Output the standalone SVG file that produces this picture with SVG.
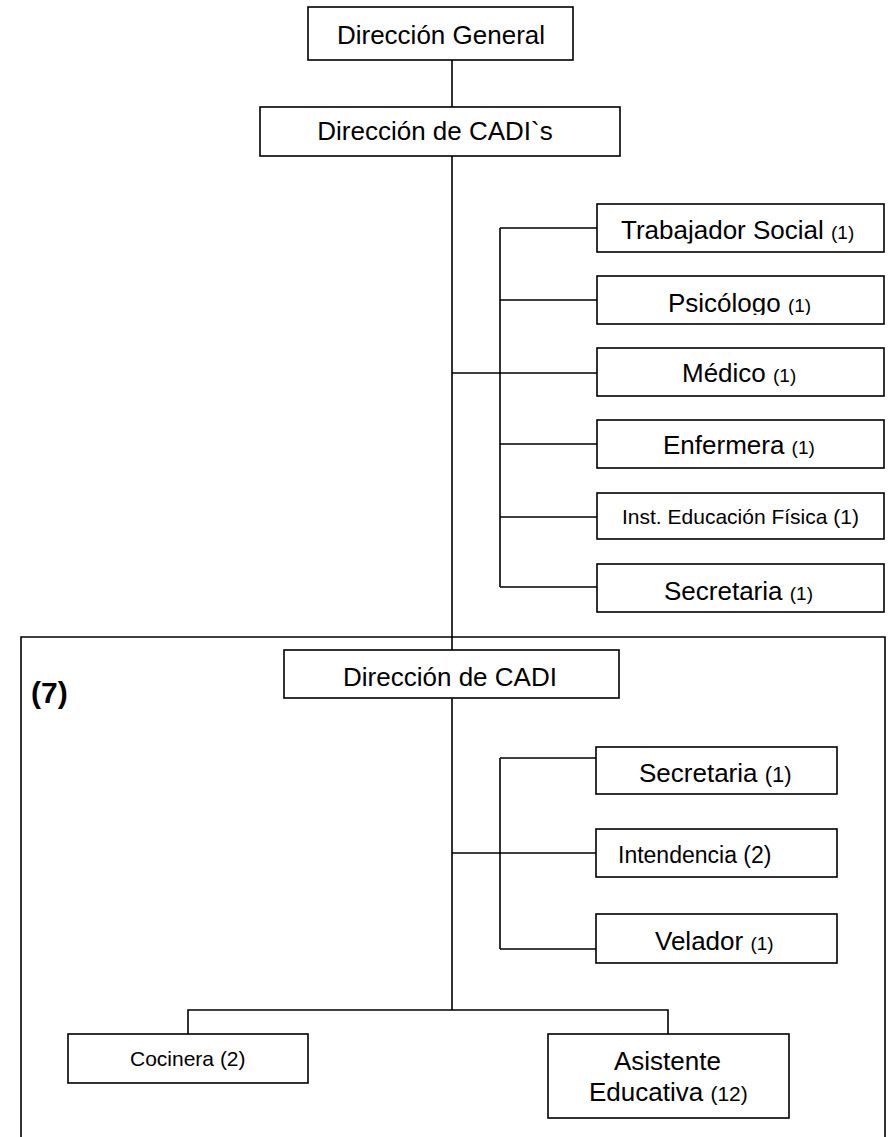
<svg xmlns="http://www.w3.org/2000/svg" width="889" height="1137" viewBox="0 0 889 1137">
<style>
.box{fill:#fff;stroke:#000;stroke-width:1.6}
.ln{fill:none;stroke:#000;stroke-width:1.6}
text{font-family:"Liberation Sans",Arial,sans-serif;fill:#000;font-size:26px}
.m{text-anchor:middle}
.s{font-size:19px}
.t{font-size:21px}
</style>
<defs>
<clipPath id="clipTS"><rect x="597" y="204" width="287" height="39.5"/></clipPath>
<clipPath id="clipPs"><rect x="597" y="276" width="287" height="39"/></clipPath>
</defs>
<g id="outer-frame"><path class="ln" d="M21,1137 V637 H885 V1137"/><text x="31" y="703" style="font-size:30px;font-weight:bold">(7)</text></g>
<g id="connectors">
<path class="ln" d="M452,60 V107 M452,156 V650 M452,698 V1010"/>
<path class="ln" d="M500,228 V587 M500,228 H597 M500,300 H597 M452,373 H597 M500,444 H597 M500,517 H597 M500,587 H597"/>
<path class="ln" d="M500,758 V949 M500,758 H596 M452,853 H596 M500,949 H596"/>
<path class="ln" d="M188,1034 V1010 H668 V1034"/>
</g>
<g id="direccion-general"><rect class="box" x="308" y="7" width="265" height="53"/><text class="m" x="441" y="44">Dirección General</text></g>
<g id="direccion-cadis"><rect class="box" x="260" y="107" width="360" height="49"/><text class="m" x="435" y="140">Dirección de CADI`s</text></g>
<g id="trabajador-social"><rect class="box" x="597" y="204" width="287" height="48"/><text x="621" y="239" clip-path="url(#clipTS)">Trabajador Social <tspan class="s">(1)</tspan></text></g>
<g id="psicologo"><rect class="box" x="597" y="276" width="287" height="48"/><text x="668" y="312" clip-path="url(#clipPs)">Psicólogo <tspan class="s">(1)</tspan></text></g>
<g id="medico"><rect class="box" x="597" y="348" width="287" height="48"/><text x="682" y="382">Médico <tspan class="s">(1)</tspan></text></g>
<g id="enfermera"><rect class="box" x="597" y="420" width="287" height="48"/><text x="663" y="454">Enfermera <tspan class="s">(1)</tspan></text></g>
<g id="inst-educacion-fisica"><rect class="box" x="597" y="493" width="287" height="46"/><text class="t" x="622" y="524">Inst. Educación Física (1)</text></g>
<g id="secretaria-1"><rect class="box" x="597" y="564" width="287" height="48"/><text x="664" y="600">Secretaria <tspan class="s">(1)</tspan></text></g>
<g id="direccion-cadi"><rect class="box" x="284" y="650" width="335" height="48"/><text class="m" x="450" y="686">Dirección de CADI</text></g>
<g id="secretaria-2"><rect class="box" x="596" y="747" width="241" height="47"/><text x="639" y="782">Secretaria <tspan style="font-size:22px">(1)</tspan></text></g>
<g id="intendencia"><rect class="box" x="596" y="829" width="241" height="48"/><text x="618" y="863" style="font-size:23px">Intendencia (2)</text></g>
<g id="velador"><rect class="box" x="596" y="914" width="241" height="49"/><text x="655" y="950">Velador <tspan class="s">(1)</tspan></text></g>
<g id="cocinera"><rect class="box" x="68" y="1034" width="240" height="49"/><text class="t" x="130" y="1066">Cocinera (2)</text></g>
<g id="asistente-educativa"><rect class="box" x="548" y="1034" width="241" height="84"/><text x="614" y="1070">Asistente</text><text x="589" y="1101">Educativa <tspan class="t">(12)</tspan></text></g>
</svg>
